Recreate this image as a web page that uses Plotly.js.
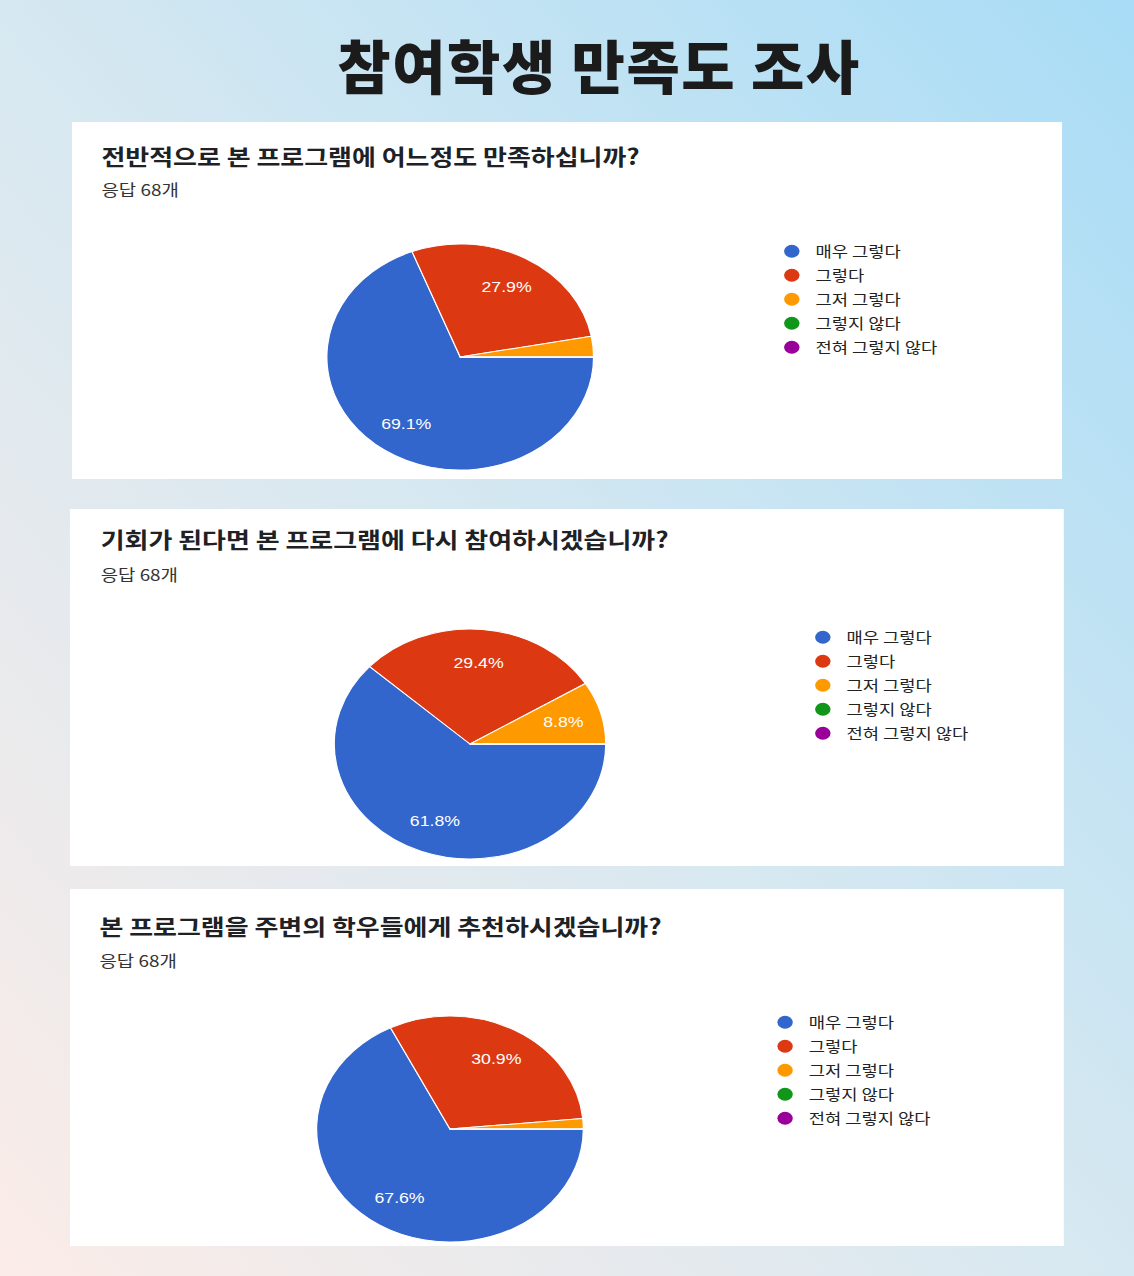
<!DOCTYPE html>
<html>
<head>
<meta charset="utf-8">
<script src="https://cdn.plot.ly/plotly-3.0.1.min.js"></script>
<style>
  body {
    margin: 0;
    width: 1134px;
    height: 1276px;
    overflow: hidden;
    position: relative;
    background: linear-gradient(to top right, #fbece8 0%, #d6e8f1 50%, #a8dcf6 100%);
    font-family: "Noto Sans CJK KR", sans-serif;
  }
  #head {
    position: absolute;
    left: 64px;
    top: 18px;
    width: 1070px;
    text-align: center;
    font-size: 58px;
    font-weight: 900;
    line-height: 92px;
    letter-spacing: 1.5px;
    color: #1b1b1b;
  }
  .panel {
    position: absolute;
    height: 357px;
    background: #fff;
    transform: scaleX(1.18);
    transform-origin: 0 0;
  }
</style>
</head>
<body>
<div id="head">참여학생 만족도 조사</div>
<div class="panel" id="chart1" style="left:72px; top:122px; width:839px;"></div>
<div class="panel" id="chart2" style="left:70px; top:509px; width:842px;"></div>
<div class="panel" id="chart3" style="left:70px; top:889px; width:842px;"></div>
<script>
// answer options + google forms palette
const answerLabels = ['매우 그렇다', '그렇다', '그저 그렇다', '그렇지 않다', '전혀 그렇지 않다'];
const answerColors = ['#3366cc', '#dc3912', '#ff9900', '#109618', '#990099'];

const questionTitles = [
  '전반적으로 본 프로그램에 어느정도 만족하십니까?',
  '기회가 된다면 본 프로그램에 다시 참여하시겠습니까?',
  '본 프로그램을 주변의 학우들에게 추천하시겠습니까?'
];
const responseCount = 68;

// counts per answer (out of 68)
const q1Counts = [47, 19, 2, 0, 0];
const q2Counts = [42, 20, 6, 0, 0];
const q3Counts = [46, 21, 1, 0, 0];

const PANEL_H = 357;

// google style: % label on the slice mid-angle at ~0.71 of the radius,
// skipped for very thin slices
function sliceLabels(counts, g) {
  var total = counts.reduce(function(a, b) { return a + b; }, 0);
  var start = 90; // degrees clockwise from 12 o'clock
  var out = [];
  counts.forEach(function(c) {
    var frac = c / total;
    var mid = (start + frac * 180) * Math.PI / 180;
    start += frac * 360;
    if (frac < 0.05) return;
    var px = g.cx + 0.71 * g.r * Math.sin(mid);
    var py = g.cy - 0.71 * g.r * Math.cos(mid);
    out.push({
      text: (frac * 100).toFixed(1) + '%',
      xref: 'paper', yref: 'paper',
      x: px / g.w, y: 1 - py / PANEL_H,
      xanchor: 'center', yanchor: 'middle',
      showarrow: false,
      font: {family: 'Liberation Sans, Arial, sans-serif', size: 15, color: '#ffffff'}
    });
  });
  return out;
}

function drawPanel(divId, title, counts, g) {
  var pieTrace = {
    type: 'pie',
    labels: answerLabels,
    values: counts,
    sort: false,
    direction: 'clockwise',
    rotation: 90,
    marker: {colors: answerColors, line: {color: '#ffffff', width: 1}},
    textinfo: 'none',
    showlegend: false,
    domain: {
      x: [(g.cx - g.r) / g.w, (g.cx + g.r) / g.w],
      y: [1 - (g.cy + g.r) / PANEL_H, 1 - (g.cy - g.r) / PANEL_H]
    }
  };

  // dummy traces so the legend gets round markers
  var legendTraces = answerLabels.map(function(lab, i) {
    return {
      type: 'scatter',
      x: [null], y: [null],
      mode: 'markers',
      name: lab,
      legendgroup: 'g' + i,
      marker: {color: answerColors[i], size: 13, symbol: 'circle'},
      hoverinfo: 'skip'
    };
  });

  var notes = [{
    text: '응답 ' + responseCount + '개',
    xref: 'paper', yref: 'paper',
    x: g.tx / g.w, y: 1 - g.sy / PANEL_H,
    xanchor: 'left', yanchor: 'middle',
    xshift: -2,
    showarrow: false,
    font: {size: 16, color: '#333333'}
  }].concat(sliceLabels(counts, g));

  var layout = {
    width: g.w,
    height: PANEL_H,
    margin: {l: 0, r: 0, t: 0, b: 0},
    paper_bgcolor: '#ffffff',
    plot_bgcolor: '#ffffff',
    font: {family: 'Noto Sans CJK KR, sans-serif'},
    title: {
      text: title,
      x: g.tx / g.w,
      xanchor: 'left',
      y: 1 - g.ty / PANEL_H,
      yanchor: 'middle',
      font: {size: 22, weight: 'bold', color: '#202124'}
    },
    annotations: notes,
    xaxis: {visible: false},
    yaxis: {visible: false},
    showlegend: true,
    legend: {
      x: (g.lx - 18) / g.w,
      y: 1 - (g.ly - 14) / PANEL_H,
      xanchor: 'left',
      yanchor: 'top',
      bgcolor: 'rgba(0,0,0,0)',
      tracegroupgap: 1.5,
      font: {size: 15, color: '#222222'},
      itemclick: false,
      itemdoubleclick: false
    }
  };

  Plotly.newPlot(divId, [pieTrace].concat(legendTraces), layout, {displayModeBar: false, staticPlot: true});
}

drawPanel('chart1', questionTitles[0], q1Counts,
  {w: 839, cx: 329, cy: 235, r: 113, tx: 25, ty: 35, sy: 67, lx: 608, ly: 127});
drawPanel('chart2', questionTitles[1], q2Counts,
  {w: 842, cx: 339, cy: 235, r: 115, tx: 26, ty: 31, sy: 65, lx: 636, ly: 126});
drawPanel('chart3', questionTitles[2], q3Counts,
  {w: 842, cx: 322, cy: 240, r: 113, tx: 25, ty: 38, sy: 71, lx: 604, ly: 131});
</script>
</body>
</html>
